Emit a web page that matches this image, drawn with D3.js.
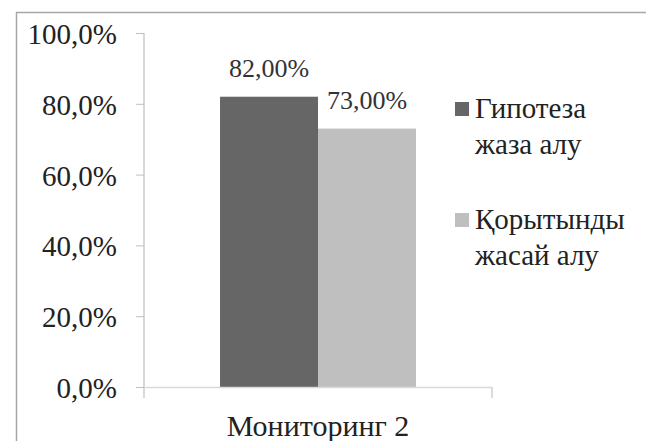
<!DOCTYPE html>
<html><head><meta charset="utf-8">
<script src="https://cdn.jsdelivr.net/npm/d3@7/dist/d3.min.js"></script>
</head><body style="margin:0">
<script>
const categories = ["Мониторинг 2"];
const seriesNames = [["Гипотеза", "жаза алу"], ["Қорытынды", "жасай алу"]];
const seriesValues = [[0.82], [0.73]];
const valueLabels = [["82,00%"], ["73,00%"]];
const yTicks = [0, 0.2, 0.4, 0.6, 0.8, 1.0];
const yTickLabels = ["0,0%", "20,0%", "40,0%", "60,0%", "80,0%", "100,0%"];
const colors = ["#666666", "#bfbfbf"];

const W = 646, H = 441;
const fontName = "Times New Roman";
const svg = d3.select("body").append("svg").attr("width", W).attr("height", H);

function label(sel, size, fill) {
  return sel.style("font-family", `"${fontName}"`).style("font-size", `${size}px`).attr("fill", fill);
}

// frame
svg.append("rect").attr("x", 16.5).attr("y", 12.5).attr("width", 700).attr("height", 500)
  .attr("fill", "none").attr("stroke", "#a6a6a6").attr("stroke-width", 1.5);

const x0 = 144, x1 = 492, yTop = 33, yBot = 387;
const y = d3.scaleLinear().domain([0, 1]).range([yBot, yTop]);
const xBand = d3.scaleBand().domain(categories).range([x0, x1]).paddingInner(0).paddingOuter(0.388);
const xSeries = d3.scaleBand().domain(d3.range(seriesValues.length)).range([0, xBand.bandwidth()]);

// y axis
const yAxis = d3.axisLeft(y).tickValues(yTicks).tickSize(8).tickPadding(19)
  .tickFormat((d, i) => yTickLabels[i]);
const gy = svg.append("g").attr("transform", `translate(${x0},0)`).call(yAxis);
gy.select(".domain").remove();
gy.selectAll(".tick line").attr("stroke", "#bfbfbf");
label(gy.selectAll(".tick text"), 29, "#222").attr("dy", "0.36em");
svg.append("line").attr("x1", x0).attr("x2", x0).attr("y1", yTop).attr("y2", yBot + 11)
  .attr("stroke", "#bfbfbf").attr("stroke-width", 1.2);

// bars
seriesValues.forEach((vals, s) => {
  vals.forEach((v, i) => {
    const bx = xBand(categories[i]) + xSeries(s);
    svg.append("rect").attr("x", bx).attr("y", y(v)).attr("width", xSeries.bandwidth())
      .attr("height", y(0) - y(v)).attr("fill", colors[s]);
    label(svg.append("text"), 26, "#333").attr("x", bx + xSeries.bandwidth() / 2).attr("y", y(v) - 20)
      .attr("text-anchor", "middle").text(valueLabels[s][i]);
  });
});

// x axis
const xAxis = d3.axisBottom(xBand).tickSize(0).tickPadding(28);
const gx = svg.append("g").attr("transform", `translate(0,${yBot})`).call(xAxis);
gx.select(".domain").remove();
label(gx.selectAll(".tick text"), 30, "#222");
svg.append("line").attr("x1", x0).attr("x2", x1).attr("y1", yBot + 0.5).attr("y2", yBot + 0.5)
  .attr("stroke", "#d9d9d9").attr("stroke-width", 1.5);
svg.append("line").attr("x1", x1).attr("x2", x1).attr("y1", yBot).attr("y2", yBot + 11)
  .attr("stroke", "#d0d0d0").attr("stroke-width", 1.5);

// legend
const legY = [118, 229];
seriesNames.forEach((lines, s) => {
  svg.append("rect").attr("x", 455).attr("y", legY[s] - 16).attr("width", 14).attr("height", 14)
    .attr("fill", colors[s]);
  lines.forEach((t, j) => {
    label(svg.append("text"), 29, "#222").attr("x", 475).attr("y", legY[s] + j * 36).text(t);
  });
});
</script>
</body></html>
